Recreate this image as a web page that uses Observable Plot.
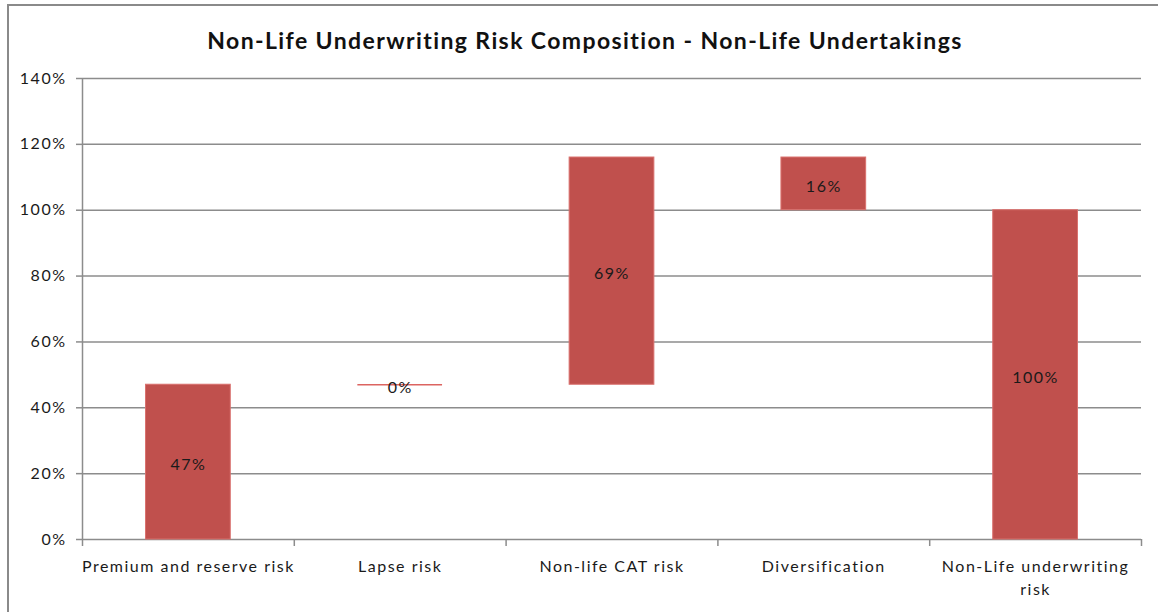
<!DOCTYPE html>
<html>
<head>
<meta charset="utf-8">
<script src="https://cdn.jsdelivr.net/npm/d3@7"></script>
<script src="https://cdn.jsdelivr.net/npm/@observablehq/plot@0.6"></script>
<style>
  html, body { margin: 0; padding: 0; background: #fff; overflow: hidden; }
  #page { position: relative; width: 1158px; height: 612px; overflow: hidden; }
  #frame { position: absolute; left: 7px; top: 4px; width: 1200px; height: 700px;
           border: 2px solid #8a8a8a; box-sizing: border-box; }
  #title { position: absolute; left: 6px; top: 24px; width: 1158px; height: 32px; line-height: 32px;
           text-align: center; font-family: Lato, "Open Sans", sans-serif; font-weight: bold;
           font-size: 23px; letter-spacing: 1.4px; color: #111; }
  #chart { position: absolute; left: 0; top: 60px; }
</style>
</head>
<body>
<div id="page">
  <div id="frame"></div>
  <div id="title">Non-Life Underwriting Risk Composition - Non-Life Undertakings</div>
  <div id="chart"></div>
</div>
<script>
// Waterfall steps of the non-life underwriting risk (in % of the total)
const categories = [
  "Premium and reserve risk",
  "Lapse risk",
  "Non-life CAT risk",
  "Diversification",
  "Non-Life underwriting risk"
];
const values = [47, 0, 69, 16, 100];
const steps = ["up", "up", "up", "down", "total"];
const yTicks = [0, 20, 40, 60, 80, 100, 120, 140];

// Running totals give each floating bar its base and top
let running = 0;
const rows = categories.map((name, i) => {
  const v = values[i];
  let y1, y2;
  if (steps[i] === "up") { y1 = running; y2 = running + v; running += v; }
  else if (steps[i] === "down") { y1 = running - v; y2 = running; running -= v; }
  else { y1 = 0; y2 = v; }
  return { i, name, value: v, y1, y2, mid: (y1 + y2) / 2 };
});

const barColor = "#c0504d";
const gridColor = "#8c8c8c";
const labelFor = (name) => name === "Non-Life underwriting risk" ? "Non-Life underwriting\nrisk" : name;

const chart = Plot.plot({
  width: 1158,
  height: 552,
  marginTop: 18,
  marginBottom: 73,
  marginLeft: 82,
  marginRight: 17,
  style: { fontFamily: "Lato, 'Open Sans', sans-serif", fontSize: "16px", letterSpacing: "1.5px",
           color: "#1a1a1a", background: "transparent" },
  x: { type: "linear", domain: [0, categories.length] },
  y: { domain: [0, 140] },
  marks: [
    Plot.gridY(yTicks, { stroke: gridColor, strokeOpacity: 1, strokeWidth: 1.5 }),
    Plot.axisY({ ticks: yTicks, tickSize: 6, tickPadding: 10, tickFormat: d => d + "%",
                 stroke: gridColor, strokeWidth: 1.5, label: null }),
    Plot.ruleX([0], { stroke: gridColor, strokeWidth: 1.5 }),
    Plot.rectY(rows.filter(d => d.y2 > d.y1), { x1: d => d.i + 0.3, x2: d => d.i + 0.7, y1: "y1", y2: "y2",
                       fill: barColor, stroke: "#d9706d", strokeWidth: 1 }),
    // a zero-sized step shows only as a thin line at its level
    Plot.ruleY(rows.filter(d => d.y2 === d.y1), { y: "y1", x1: d => d.i + 0.3, x2: d => d.i + 0.7,
                       stroke: "#dc6461", strokeWidth: 1.5 }),
    Plot.text(rows, { x: d => d.i + 0.5, y: "mid", text: d => d.value + "%", dy: 3,
                      fill: "#1a1a1a", fontSize: 16 }),
    Plot.axisX({ ticks: d3.range(categories.length + 1), tickSize: 7, tickFormat: () => "",
                 stroke: gridColor, strokeWidth: 1.5, label: null }),
    Plot.axisX({ ticks: d3.range(categories.length).map(i => i + 0.5), tickSize: 0, tickPadding: 16,
                 tickFormat: i => labelFor(categories[Math.floor(i)]), lineHeight: 1.45,
                 fontSize: 16, letterSpacing: "1.3px", label: null })
  ]
});

document.getElementById("chart").appendChild(chart);
</script>
</body>
</html>
